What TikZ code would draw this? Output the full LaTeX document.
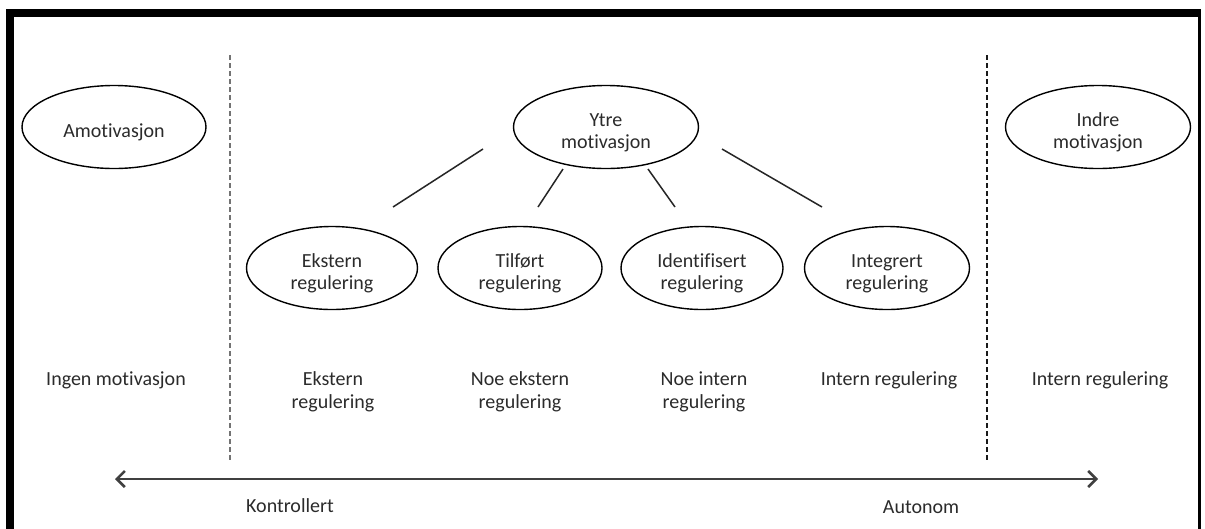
\documentclass[tikz,border=0pt]{standalone}
\usepackage{fontspec}
\setmainfont{Carlito}[Ligatures=NoCommon]
\usetikzlibrary{shapes.geometric,arrows.meta}
\definecolor{txt}{HTML}{2B2B2B}
\newcommand{\ovaltext}[1]{\raisebox{-6pt}[\height][\depth]{\begin{tabular}{@{}c@{}}#1\end{tabular}}}
\tikzset{
  oval/.style={draw=black, line width=1.4pt, ellipse, inner sep=0pt, minimum height=83pt, text=txt, font=\fontsize{20}{22}\selectfont},
  lbl/.style={text=txt, align=center, inner sep=0pt, font=\fontsize{20}{23}\selectfont},
  link/.style={draw=black!85, line width=1.5pt},
  divider/.style={line width=1.6pt, dash pattern=on 5pt off 3pt},
  axis/.style={draw=black!75, line width=2.2pt, {Straight Barb[length=8pt,width=16pt,line width=2.6pt]}-{Straight Barb[length=8pt,width=16pt,line width=2.6pt]}}
}
\begin{document}
\begin{tikzpicture}[x=1pt,y=-1pt]
\useasboundingbox (0,0) rectangle (1205,528);
\fill[white] (0,0) rectangle (1205,528);
% frame
\fill[black] (6,9) rectangle (1201,17);
\fill[black] (6,9) rectangle (14,540);
\fill[black] (1198,9) rectangle (1201,540);

% top ellipses
\node[oval, minimum width=184pt] (amot) at (114,127) {\ovaltext{Amotivasjon}};
\node[oval, minimum width=185pt] (ytre) at (606,127) {\ovaltext{Ytre\\motivasjon}};
\node[oval, minimum width=185pt] (indre) at (1098,127) {\ovaltext{Indre\\motivasjon}};

% second row ellipses
\node[oval, minimum width=171pt] (ekst) at (332,268) {\ovaltext{Ekstern\\regulering}};
\node[oval, minimum width=164pt] (tilf) at (520,268) {\ovaltext{Tilført\\regulering}};
\node[oval, minimum width=162pt] (ident) at (702,268) {\ovaltext{Identifisert\\regulering}};
\node[oval, minimum width=165pt] (integ) at (887,268) {\ovaltext{Integrert\\regulering}};

% connector ends
\coordinate (c1a) at (483,149); \coordinate (c1b) at (393,207);
\coordinate (c2a) at (563,169); \coordinate (c2b) at (538,207);
\coordinate (c3a) at (648,169); \coordinate (c3b) at (675,207);
\coordinate (c4a) at (722,149); \coordinate (c4b) at (822,207);
\draw[link] (c1a) -- (c1b);
\draw[link] (c2a) -- (c2b);
\draw[link] (c3a) -- (c3b);
\draw[link] (c4a) -- (c4b);

% dividers
\coordinate (d1t) at (230,55); \coordinate (d1b) at (230,460);
\coordinate (d2t) at (987,55); \coordinate (d2b) at (987,460);
\draw[divider, draw=black!55] (d1t) -- (d1b);
\draw[divider, draw=black!90] (d2t) -- (d2b);

% labels
\node[lbl] (ingen) at (116,380) {Ingen motivasjon};
\node[lbl] (lekst) at (333,392) {Ekstern\\regulering};
\node[lbl] (lnoeek) at (520,392) {Noe ekstern\\regulering};
\node[lbl] (lnoein) at (704,392) {Noe intern\\regulering};
\node[lbl] (lint1) at (889,380) {Intern regulering};
\node[lbl] (lint2) at (1100,380) {Intern regulering};

% axis
\coordinate (aL) at (115,479); \coordinate (aR) at (1098,479);
\draw[axis] (aL) -- (aR);
\node[lbl] (kontr) at (290,506) {Kontrollert};
\node[lbl] (auton) at (921,507) {Autonom};
\end{tikzpicture}
\end{document}
